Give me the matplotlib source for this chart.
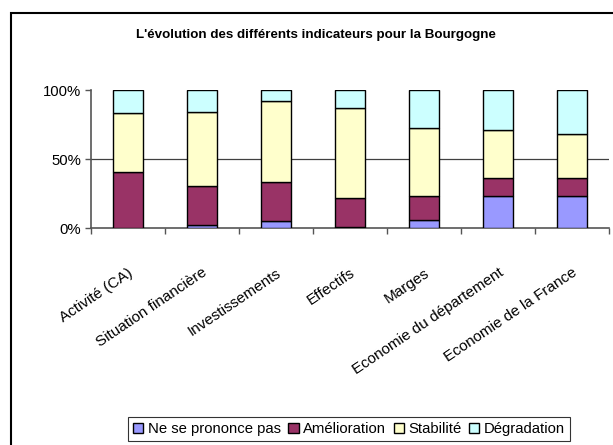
import matplotlib

matplotlib.use("Agg")
import matplotlib.pyplot as plt  # noqa: E402
from matplotlib.patches import Rectangle  # noqa: E402
from matplotlib.ticker import FuncFormatter  # noqa: E402

plt.rcParams["font.family"] = ["Liberation Sans", "DejaVu Sans"]

categories = [
    "Activité (CA)",
    "Situation financière",
    "Investissements",
    "Effectifs",
    "Marges",
    "Economie du département",
    "Economie de la France",
]
ne_se_prononce = [0, 2, 5, 1, 6, 23.5, 23.5]
amelioration = [41, 28.5, 28.5, 21, 17.5, 12.5, 12.5]
stabilite = [42.5, 53.5, 58.5, 65, 49, 35.5, 32.5]
degradation = [16.5, 16, 8, 13, 27.5, 28.5, 31.5]

series = [
    ("Ne se prononce pas", ne_se_prononce, "#9999FF"),
    ("Amélioration", amelioration, "#993366"),
    ("Stabilité", stabilite, "#FFFFCC"),
    ("Dégradation", degradation, "#CCFFFF"),
]

fig = plt.figure(figsize=(6.13, 4.45), dpi=100)
ax = fig.add_axes([0.1485, 0.4876, 0.845, 0.3095])

x = range(len(categories))
bottom = [0] * len(categories)
handles = []
for name, vals, color in series:
    h = ax.bar(x, vals, width=0.41, bottom=bottom, color=color,
               edgecolor="black", linewidth=1.0, label=name, zorder=3)
    handles.append(h)
    bottom = [b + v for b, v in zip(bottom, vals)]

ax.set_xlim(-0.5, len(categories) - 0.5)
ax.set_ylim(0, 100)
ax.axhline(50, color="#404040", linewidth=0.9, zorder=1)

ax.set_yticks([0, 50, 100])
ax.yaxis.set_major_formatter(FuncFormatter(lambda v, p: f"{v:.0f}%"))
ax.tick_params(axis="y", direction="out", length=4, width=1, color="#555555",
               labelsize=10.7, pad=3)

ax.set_xticks(list(x))
ax.set_xticklabels(categories, rotation=34, ha="right", va="top",
                   rotation_mode="anchor", fontsize=11)
ax.tick_params(axis="x", which="major", length=0, pad=27)
ax.set_xticks([i - 0.5 for i in range(len(categories) + 1)], minor=True)
ax.tick_params(axis="x", which="minor", direction="out", length=4, width=1,
               color="#555555")

for side in ("top", "right"):
    ax.spines[side].set_visible(False)
for side in ("left", "bottom"):
    ax.spines[side].set_color("#555555")
    ax.spines[side].set_linewidth(1.2)

fig.text(316 / 613, 1 - 35 / 445, "L'évolution des différents indicateurs pour la Bourgogne",
         ha="center", va="center", fontsize=9.6, fontweight="bold")

leg = fig.legend(handles=handles, loc="center", bbox_to_anchor=(349 / 613, 0.036),
                 ncol=4, fontsize=10.7, frameon=True, fancybox=False,
                 edgecolor="black", handlelength=0.7, handleheight=0.7,
                 handletextpad=0.3, columnspacing=0.5, borderpad=0.35)
leg.get_frame().set_linewidth(0.8)

fig.patches.append(Rectangle((10.5 / 613, -0.1), 2, 1.1 - 13 / 445, fill=False,
                             edgecolor="black", linewidth=1.5,
                             transform=fig.transFigure, clip_on=False))

fig.savefig("out.png", dpi=100)
